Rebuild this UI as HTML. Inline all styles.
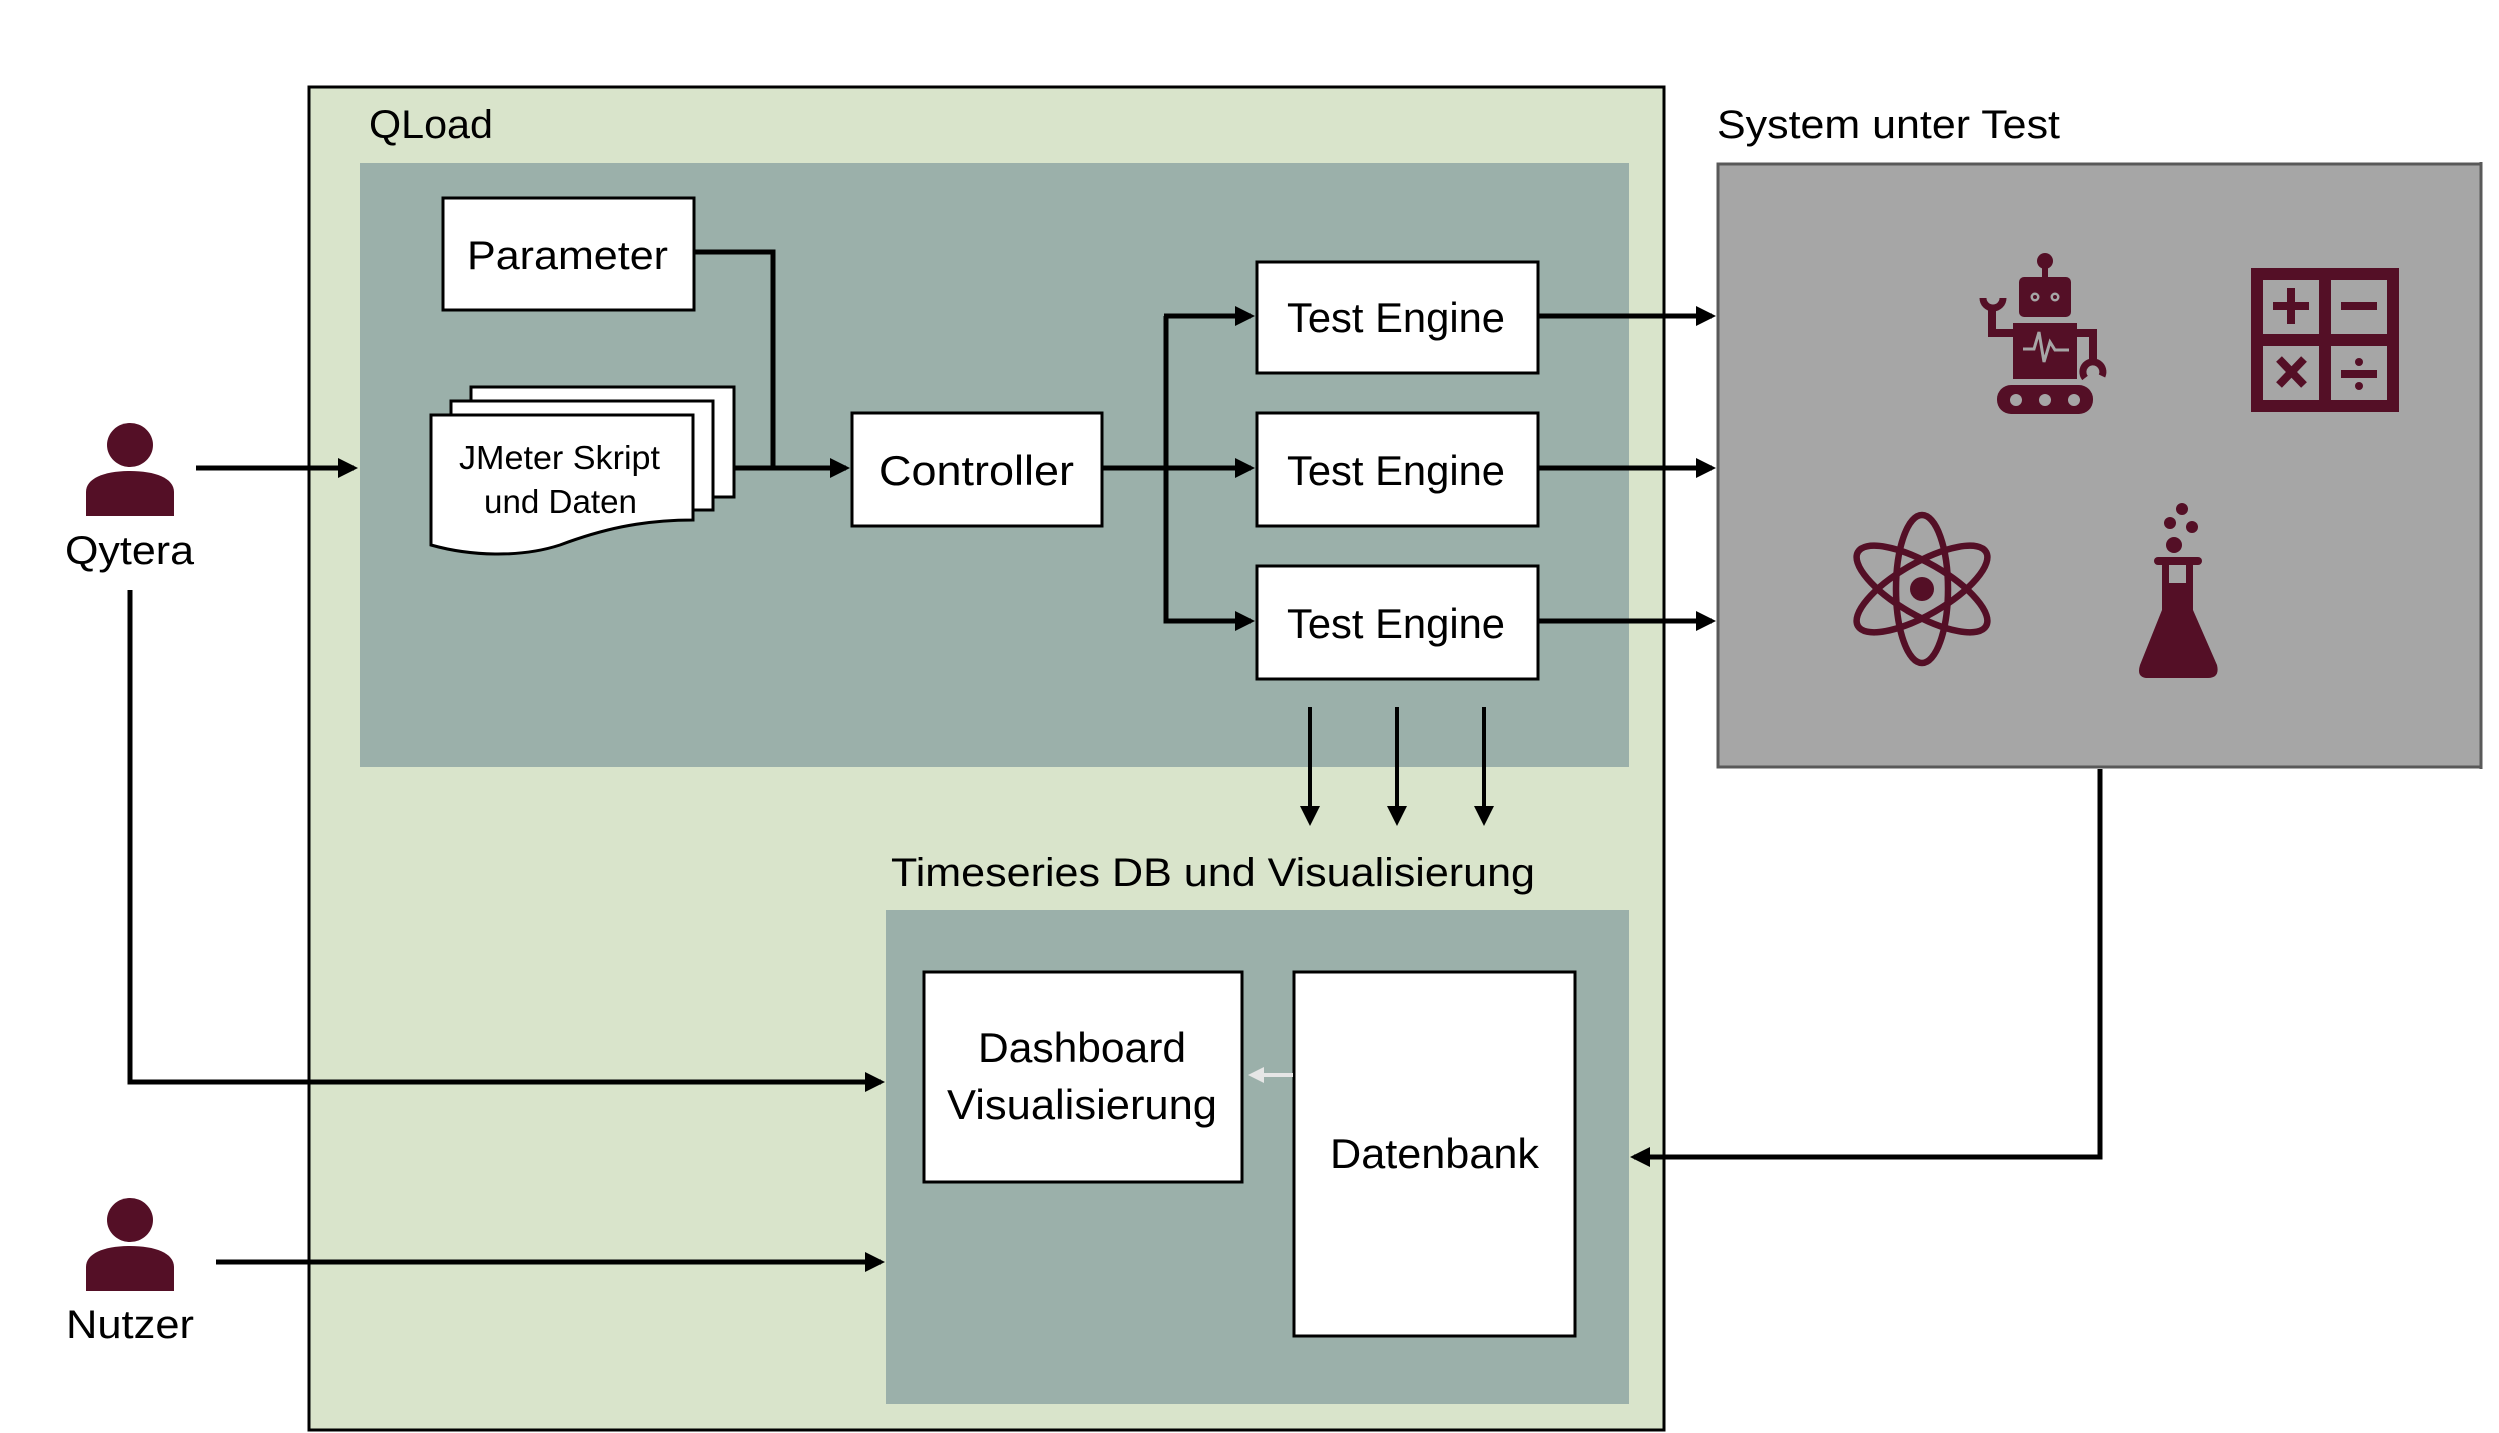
<!DOCTYPE html>
<html><head><meta charset="utf-8"><style>
html,body{margin:0;padding:0;background:#fff;}
svg{display:block;}
text{font-family:"Liberation Sans",sans-serif;fill:#000;}
</style></head><body>
<svg width="2499" height="1433" viewBox="0 0 2499 1433" xmlns="http://www.w3.org/2000/svg">
<defs>
<marker id="ah" markerWidth="4" markerHeight="4" refX="3.2" refY="2" orient="auto" markerUnits="strokeWidth">
<path d="M0,0 L4,2 L0,4 z" fill="#000"/></marker>
<marker id="ahs" markerWidth="5" markerHeight="5" refX="4" refY="2.5" orient="auto" markerUnits="strokeWidth">
<path d="M0,0 L5,2.5 L0,5 z" fill="#000"/></marker>
<marker id="ahg" markerWidth="4" markerHeight="4" refX="3" refY="2" orient="auto" markerUnits="strokeWidth">
<path d="M0,0 L4,2 L0,4 z" fill="#e6e6e6"/></marker>
</defs>

<!-- QLoad outer -->
<rect x="309" y="87" width="1355" height="1343" fill="#d9e4cb" stroke="#000" stroke-width="3"/>
<text x="369" y="138" font-size="40" textLength="124" lengthAdjust="spacingAndGlyphs">QLoad</text>
<rect x="360" y="163" width="1269" height="604" fill="#9bb0aa"/>

<!-- Timeseries -->
<text x="891" y="886" font-size="40" textLength="644" lengthAdjust="spacingAndGlyphs">Timeseries DB und Visualisierung</text>
<rect x="886" y="910" width="743" height="494" fill="#9bb0aa"/>

<!-- SUT -->
<text x="1717" y="138" font-size="40" textLength="343" lengthAdjust="spacingAndGlyphs">System unter Test</text>
<rect x="1718" y="164" width="1762" height="603" fill="#a6a6a6" stroke="#595959" stroke-width="3"/>
<rect x="2482" y="0" width="17" height="1433" fill="#fff"/>
<line x1="2481" y1="162" x2="2481" y2="769" stroke="#595959" stroke-width="3"/>

<!-- Parameter -->
<rect x="443" y="198" width="251" height="112" fill="#fff" stroke="#000" stroke-width="3"/>
<text x="467" y="269" font-size="40" textLength="201" lengthAdjust="spacingAndGlyphs">Parameter</text>

<!-- Docs -->
<rect x="471" y="387" width="263" height="110" fill="#fff" stroke="#000" stroke-width="3"/>
<rect x="451" y="401" width="262" height="109" fill="#fff" stroke="#000" stroke-width="3"/>
<path d="M431,415 L693,415 L693,520 C640,520 600,530 560,545 C520,558 470,556 431,545 Z" fill="#fff" stroke="#000" stroke-width="3"/>
<text x="459" y="469" font-size="33" textLength="201" lengthAdjust="spacingAndGlyphs">JMeter Skript</text>
<text x="484" y="513" font-size="33" textLength="153" lengthAdjust="spacingAndGlyphs">und Daten</text>

<!-- Controller -->
<rect x="852" y="413" width="250" height="113" fill="#fff" stroke="#000" stroke-width="3"/>
<text x="879" y="485" font-size="42" textLength="195" lengthAdjust="spacingAndGlyphs">Controller</text>

<!-- Test Engines -->
<g fill="#fff" stroke="#000" stroke-width="3">
<rect x="1257" y="262" width="281" height="111"/>
<rect x="1257" y="413" width="281" height="113"/>
<rect x="1257" y="566" width="281" height="113"/>
</g>
<text x="1287" y="332" font-size="42" textLength="218" lengthAdjust="spacingAndGlyphs">Test Engine</text>
<text x="1287" y="485" font-size="42" textLength="218" lengthAdjust="spacingAndGlyphs">Test Engine</text>
<text x="1287" y="638" font-size="42" textLength="218" lengthAdjust="spacingAndGlyphs">Test Engine</text>

<!-- Dashboard / Datenbank -->
<rect x="924" y="972" width="318" height="210" fill="#fff" stroke="#000" stroke-width="3"/>
<text x="978" y="1062" font-size="42" textLength="208" lengthAdjust="spacingAndGlyphs">Dashboard</text>
<text x="947" y="1119" font-size="42" textLength="270" lengthAdjust="spacingAndGlyphs">Visualisierung</text>
<rect x="1294" y="972" width="281" height="364" fill="#fff" stroke="#000" stroke-width="3"/>
<text x="1330" y="1168" font-size="42" textLength="209" lengthAdjust="spacingAndGlyphs">Datenbank</text>
<line x1="1293" y1="1075" x2="1252" y2="1075" stroke="#e6e6e6" stroke-width="4" marker-end="url(#ahg)"/>

<!-- Connectors -->
<g stroke="#000" stroke-width="5" fill="none">
<line x1="196" y1="468" x2="354" y2="468" marker-end="url(#ah)"/>
<polyline points="694,252 773,252 773,468"/>
<line x1="734" y1="468" x2="846" y2="468" marker-end="url(#ah)"/>
<line x1="1102" y1="468" x2="1251" y2="468" marker-end="url(#ah)"/>
<polyline points="1166,316 1166,621 1251,621" marker-end="url(#ah)"/>
<line x1="1164" y1="316" x2="1251" y2="316" marker-end="url(#ah)"/>
<line x1="1538" y1="316" x2="1712" y2="316" marker-end="url(#ah)"/>
<line x1="1538" y1="468" x2="1712" y2="468" marker-end="url(#ah)"/>
<line x1="1538" y1="621" x2="1712" y2="621" marker-end="url(#ah)"/>
<polyline points="130,590 130,1082 881,1082" marker-end="url(#ah)"/>
<line x1="216" y1="1262" x2="881" y2="1262" marker-end="url(#ah)"/>
<polyline points="2100,769 2100,1157 1634,1157" marker-end="url(#ah)"/>
</g>
<g stroke="#000" stroke-width="4">
<line x1="1310" y1="707" x2="1310" y2="822" marker-end="url(#ahs)"/>
<line x1="1397" y1="707" x2="1397" y2="822" marker-end="url(#ahs)"/>
<line x1="1484" y1="707" x2="1484" y2="822" marker-end="url(#ahs)"/>
</g>

<!-- Persons -->
<g fill="#540f26">
<ellipse cx="130" cy="445" rx="23" ry="22"/>
<path d="M86,516 L86,492 C86,478 105,471 130,471 C155,471 174,478 174,492 L174,516 Z"/>
<ellipse cx="130" cy="1220" rx="23" ry="22"/>
<path d="M86,1291 L86,1267 C86,1253 105,1246 130,1246 C155,1246 174,1253 174,1267 L174,1291 Z"/>
</g>
<text x="65" y="564" font-size="40" textLength="129" lengthAdjust="spacingAndGlyphs">Qytera</text>
<text x="66" y="1338" font-size="40" textLength="128" lengthAdjust="spacingAndGlyphs">Nutzer</text>

<!-- Robot -->
<g fill="#540f26">
<circle cx="2045" cy="261" r="8"/>
<rect x="2042" y="262" width="6" height="18"/>
<rect x="2019" y="277" width="52" height="40" rx="5"/>
<rect x="2013" y="323" width="64" height="56"/>
<rect x="1997" y="385" width="96" height="29" rx="14"/>
<path d="M2013,333 L1992,333 L1992,305" fill="none" stroke="#540f26" stroke-width="8"/>
<path d="M2077,333 L2093,333 L2093,365" fill="none" stroke="#540f26" stroke-width="8"/>
<path d="M1983,298 A10,10 0 0 0 2003,298" fill="none" stroke="#540f26" stroke-width="7"/>
<path d="M2085,378 A10,10 0 1 1 2102,376" fill="none" stroke="#540f26" stroke-width="7"/>
</g>
<g fill="#a6a6a6">
<circle cx="2035" cy="297" r="4.5"/><circle cx="2055" cy="297" r="4.5"/>
<circle cx="2016" cy="400" r="6"/><circle cx="2045" cy="400" r="6"/><circle cx="2074" cy="400" r="6"/>
</g>
<circle cx="2035" cy="297" r="2" fill="#540f26"/><circle cx="2055" cy="297" r="2" fill="#540f26"/>
<polyline points="2023,349 2034,349 2039,332 2044,362 2050,342 2055,350 2069,350" fill="none" stroke="#a6a6a6" stroke-width="3"/>

<!-- Calculator -->
<rect x="2251" y="268" width="148" height="144" fill="#540f26"/>
<g fill="#a6a6a6">
<rect x="2263" y="280" width="56" height="54"/><rect x="2331" y="280" width="56" height="54"/>
<rect x="2263" y="346" width="56" height="54"/><rect x="2331" y="346" width="56" height="54"/>
</g>
<g stroke="#540f26" stroke-width="8">
<line x1="2273" y1="306" x2="2309" y2="306"/><line x1="2291" y1="288" x2="2291" y2="324"/>
<line x1="2341" y1="306" x2="2377" y2="306"/>
<line x1="2279" y1="359" x2="2304" y2="385"/><line x1="2304" y1="359" x2="2279" y2="385"/>
<line x1="2341" y1="374" x2="2377" y2="374"/>
</g>
<circle cx="2359" cy="362" r="4" fill="#540f26"/><circle cx="2359" cy="386" r="4" fill="#540f26"/>

<!-- Atom -->
<g fill="none" stroke="#540f26" stroke-width="6.5" transform="translate(1922,589)">
<ellipse rx="26" ry="74"/>
<ellipse rx="74" ry="26" transform="rotate(30)"/>
<ellipse rx="74" ry="26" transform="rotate(-30)"/>
</g>
<circle cx="1922" cy="589" r="12" fill="#540f26"/>

<!-- Flask -->
<g fill="#540f26">
<circle cx="2182" cy="509" r="6"/><circle cx="2170" cy="523" r="6"/><circle cx="2192" cy="527" r="6"/><circle cx="2174" cy="545" r="8"/>
<rect x="2154" y="557" width="48" height="8" rx="4"/>
<path d="M2162,565 L2193,565 L2193,610 L2217,665 Q2220,678 2208,678 L2148,678 Q2136,678 2140,665 L2162,610 Z"/>
</g>
<rect x="2169" y="565" width="17" height="18" fill="#a6a6a6"/>
</svg>
</body></html>
